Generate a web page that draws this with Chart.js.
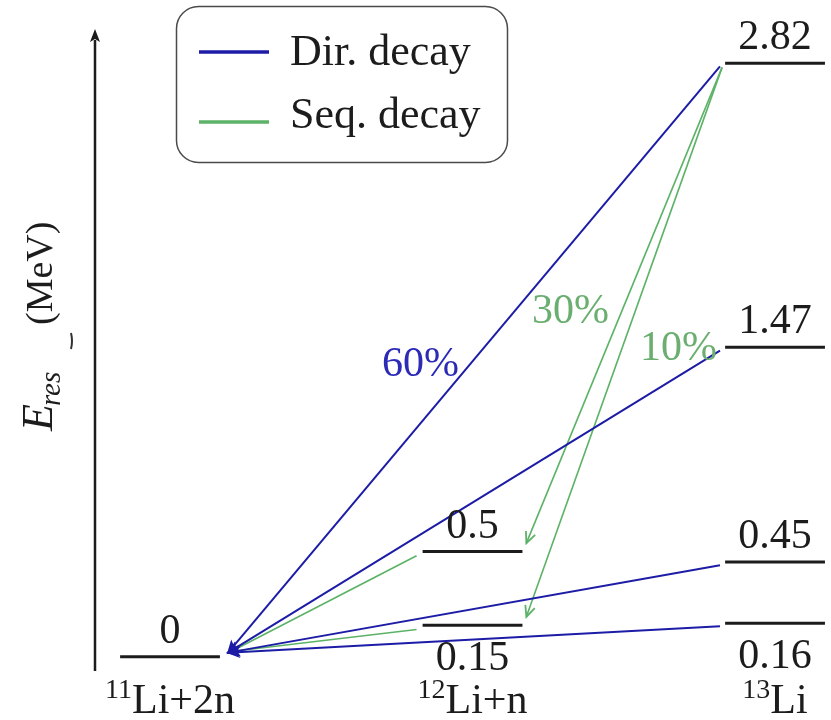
<!DOCTYPE html>
<html><head><meta charset="utf-8">
<script src="https://cdn.jsdelivr.net/npm/chart.js@4/dist/chart.umd.min.js"></script>
<style>html,body{margin:0;padding:0;background:#fff}#wrap{width:831px;height:720px;position:relative}</style>
</head><body><div id="wrap"><canvas id="c"></canvas></div>
<script>
// ---- data ----
const categoryMass = ['11', '12', '13'];
const categoryNames = ['Li+2n', 'Li+n', 'Li'];
const groundLevels = [0];           // 11Li+2n
const li12Levels = [0.5, 0.15];     // 12Li+n
const li13Levels = [2.82, 1.47, 0.45, 0.16]; // 13Li
const dirDecayFrom = [2.82, 1.47, 0.45, 0.16];   // 13Li -> 11Li+2n
const seqStepFrom = [2.82, 2.82];                 // 13Li -> 12Li+n
const seqStepTo = [0.5, 0.15];
const seqSecondFrom = [0.5, 0.15];                // 12Li+n -> 11Li+2n
const branchLabels = ['60%', '30%', '10%'];
const levelLabelsBelow = [0.15, 0.16];

// ---- style constants ----
const BLUE = '#1c1ca6', GREEN = '#5cb266', BLACK = '#1c1c1c';
const BLUE_TXT = '#2b2bb8', GREEN_TXT = '#6aae70';
const HALF = 0.165;   // half width of a level bar (category units)
const FONT = '"Liberation Serif", "DejaVu Serif", serif';

const datasets = [];
function levelSet(cat, levels) {
  levels.forEach(e => datasets.push({
    kind: 'level', cat, value: e,
    data: [{x: cat - HALF, y: e}, {x: cat + HALF, y: e}],
    borderColor: BLACK, borderWidth: 3
  }));
}
levelSet(0, groundLevels);
levelSet(1, li12Levels);
levelSet(2, li13Levels);

const groundTip = {x: 0 + HALF + 0.027, y: groundLevels[0] + 0.02};
dirDecayFrom.forEach(e => datasets.push({
  kind: 'arrow', head: 'solid',
  data: [{x: 2 - HALF - 0.017, y: e - 0.015}, groundTip],
  borderColor: BLUE, borderWidth: 2
}));
seqStepFrom.forEach((e, i) => datasets.push({
  kind: 'arrow', head: 'open',
  data: [{x: 2 - HALF - 0.01, y: e - 0.02}, {x: 1 + HALF + 0.013, y: seqStepTo[i] + 0.04}],
  borderColor: GREEN, borderWidth: 1.6
}));
seqSecondFrom.forEach(e => datasets.push({
  kind: 'arrow', head: 'none',
  data: [{x: 1 - HALF - 0.02, y: e - 0.02}, {x: groundTip.x + 0.01, y: groundTip.y + 0.005}],
  borderColor: GREEN, borderWidth: 1.6
}));
datasets.forEach(d => { d.showLine = true; d.pointRadius = 0; d.fill = false; });

function drawHead(ctx, p0, p1, type, color) {
  const a = Math.atan2(p1.y - p0.y, p1.x - p0.x);
  ctx.save();
  ctx.translate(p1.x, p1.y); ctx.rotate(a);
  if (type === 'solid') {
    ctx.fillStyle = color;
    ctx.beginPath(); ctx.moveTo(2, 0); ctx.lineTo(-12, -6); ctx.lineTo(-9, 0); ctx.lineTo(-12, 6); ctx.closePath(); ctx.fill();
  } else if (type === 'open') {
    ctx.strokeStyle = color; ctx.lineWidth = 1.8;
    ctx.beginPath(); ctx.moveTo(-11, -5); ctx.lineTo(0, 0); ctx.lineTo(-11, 5); ctx.stroke();
  }
  ctx.restore();
}

function supText(ctx, sup, base, cx, baseline, size) {
  ctx.font = `${Math.round(size*0.66)}px ${FONT}`;
  const ws = ctx.measureText(sup).width;
  ctx.font = `${size}px ${FONT}`;
  const wb = ctx.measureText(base).width;
  const x0 = cx - (ws + wb) / 2;
  ctx.textAlign = 'left';
  ctx.font = `${Math.round(size*0.66)}px ${FONT}`;
  ctx.fillText(sup, x0, baseline - size*0.36);
  ctx.font = `${size}px ${FONT}`;
  ctx.fillText(base, x0 + ws, baseline);
}

const decor = {
  id: 'decor',
  afterDatasetsDraw(chart) {
    const ctx = chart.ctx, xs = chart.scales.x, ys = chart.scales.y;
    // arrowheads
    chart.data.datasets.forEach(d => {
      if (d.kind !== 'arrow' || d.head === 'none') return;
      const p0 = {x: xs.getPixelForValue(d.data[0].x), y: ys.getPixelForValue(d.data[0].y)};
      const p1 = {x: xs.getPixelForValue(d.data[1].x), y: ys.getPixelForValue(d.data[1].y)};
      drawHead(ctx, p0, p1, d.head, d.borderColor);
    });
    ctx.save();
    ctx.fillStyle = BLACK; ctx.textBaseline = 'alphabetic';
    // level labels
    ctx.font = `42px ${FONT}`; ctx.textAlign = 'center';
    chart.data.datasets.forEach(d => {
      if (d.kind !== 'level') return;
      const cx = xs.getPixelForValue(d.cat), py = ys.getPixelForValue(d.value);
      const below = d.cat === 1 ? d.value === levelLabelsBelow[0] : (d.cat === 2 && d.value === levelLabelsBelow[1]);
      ctx.fillText(String(d.value), cx, below ? py + 45 : py - 14);
    });
    // category labels
    categoryMass.forEach((m, i) => supText(ctx, m, categoryNames[i], xs.getPixelForValue(i), 713, 42));
    // branching ratio labels
    ctx.textAlign = 'left'; ctx.font = `42px ${FONT}`;
    ctx.fillStyle = BLUE_TXT; ctx.fillText(branchLabels[0], 382, 376);
    ctx.fillStyle = GREEN_TXT; ctx.fillText(branchLabels[1], 532, 323);
    ctx.fillText(branchLabels[2], 640, 360);
    // y axis with arrow
    const ax = 95;
    ctx.strokeStyle = BLACK; ctx.lineWidth = 2.5;
    ctx.beginPath(); ctx.moveTo(ax, 671); ctx.lineTo(ax, 40); ctx.stroke();
    ctx.fillStyle = BLACK;
    ctx.beginPath(); ctx.moveTo(ax, 29); ctx.lineTo(ax - 5, 42); ctx.lineTo(ax, 39); ctx.lineTo(ax + 5, 42); ctx.closePath(); ctx.fill();
    // y title (rotated), starts at y=431 going up
    ctx.save();
    ctx.translate(52, 431); ctx.rotate(-Math.PI / 2);
    ctx.textAlign = 'left';
    ctx.font = `italic 44px ${FONT}`; ctx.fillText('E', 0, 0);
    const wE = ctx.measureText('E').width;
    ctx.font = `italic 29px ${FONT}`; ctx.fillText('res', wE - 2, 8);
    ctx.font = `38px ${FONT}`; ctx.fillText('(MeV)', 106, 0);
    ctx.strokeStyle = '#333'; ctx.lineWidth = 2;
    ctx.beginPath(); ctx.moveTo(82, 19); ctx.quadraticCurveTo(90, 21, 98, 19); ctx.stroke();
    ctx.restore();
    // legend
    ctx.strokeStyle = '#4a4a4a'; ctx.lineWidth = 1.5; ctx.fillStyle = '#fff';
    ctx.beginPath(); ctx.roundRect(176.5, 6.5, 331, 156, 22); ctx.fill(); ctx.stroke();
    ctx.lineWidth = 3.5;
    ctx.strokeStyle = BLUE; ctx.beginPath(); ctx.moveTo(199, 52); ctx.lineTo(269, 52); ctx.stroke();
    ctx.strokeStyle = GREEN; ctx.beginPath(); ctx.moveTo(199, 122); ctx.lineTo(269, 122); ctx.stroke();
    ctx.fillStyle = BLACK; ctx.font = `44px ${FONT}`; ctx.textAlign = 'left';
    ctx.fillText('Dir. decay', 290, 65);
    ctx.fillText('Seq. decay', 290, 128);
    ctx.restore();
  }
};

new Chart(document.getElementById('c'), {
  type: 'scatter',
  data: { datasets },
  options: {
    responsive: true, maintainAspectRatio: false, animation: false,
    layout: { padding: 0 },
    plugins: { legend: { display: false }, tooltip: { enabled: false } },
    scales: {
      x: { type: 'linear', min: -0.562, max: 2.185, display: false },
      y: { type: 'linear', min: -0.30, max: 3.12, display: false }
    },
    elements: { line: { tension: 0 } }
  },
  plugins: [decor]
});
</script></body></html>
